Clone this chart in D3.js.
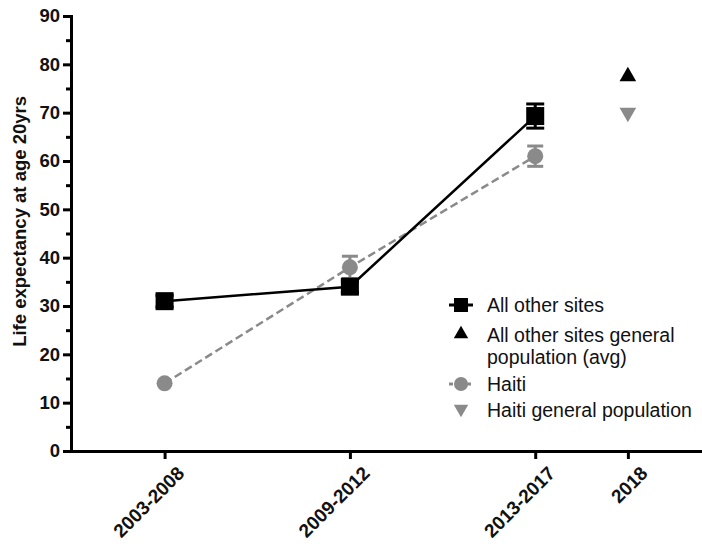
<!DOCTYPE html>
<html>
<head>
<meta charset="utf-8">
<script src="https://cdn.jsdelivr.net/npm/d3@7"></script>
<style>
body { margin: 0; background: #fff; }
svg { font-family: "Liberation Sans", Arial, sans-serif; }
</style>
</head>
<body>
<svg id="chart" width="702" height="544"></svg>
<script>
const periods = ["2003-2008", "2009-2012", "2013-2017", "2018"]
const periodPos = [0, 2, 4, 5]
const otherSites = [31, 34, 69.3]
const otherSitesErr = [1.2, 1.2, 2.5]
const haiti = [14, 38, 61]
const haitiErr = [0, 2.3, 2.1]
const otherGenPop = [77.5]
const haitiGenPop = [70]
const yTicks = [0, 10, 20, 30, 40, 50, 60, 70, 80, 90]
const grey = "#8a8a8a"
const ink = "#111"

const svg = d3.select("#chart")
const x = d3.scaleLinear().domain([-1.01, 5.8]).range([71, 702])
const y = d3.scaleLinear().domain([0, 90]).range([451, 16])

// y axis
const yAxis = svg.append("g")
	.attr("transform", "translate(" + x(-1.01) + ",0)")
	.call(d3.axisLeft(y).tickValues(yTicks).tickSize(8).tickPadding(3))
yAxis.select(".domain").attr("stroke-width", 3)
yAxis.selectAll(".tick line").attr("stroke-width", 3)
yAxis.selectAll("text").attr("font-size", 18.5).attr("font-weight", "bold").attr("fill", ink)
svg.append("g")
	.attr("transform", "translate(" + x(-1.01) + ",0)")
	.call(d3.axisLeft(y).tickValues(d3.range(5, 90, 10)).tickSize(5).tickFormat(""))
	.call(g => g.select(".domain").remove())
	.selectAll(".tick line").attr("stroke-width", 3)

svg.append("text")
	.attr("transform", "translate(20," + y(47.5) + ") rotate(-90)")
	.attr("text-anchor", "middle")
	.attr("dy", "0.35em")
	.attr("font-size", 18.5)
	.attr("font-weight", "bold")
	.attr("fill", ink)
	.text("Life expectancy at age 20yrs")

// x axis
const xAxis = svg.append("g")
	.attr("transform", "translate(0," + y(0) + ")")
	.call(d3.axisBottom(x).tickValues(periodPos).tickFormat((d, i) => periods[i]).tickSize(8).tickSizeOuter(0))
xAxis.select(".domain").attr("stroke-width", 3)
xAxis.selectAll(".tick line").attr("stroke-width", 3)
xAxis.selectAll("text")
	.attr("font-size", 19).attr("font-weight", "bold").attr("fill", ink)
	.attr("text-anchor", "end")
	.attr("dy", "0.35em")
	.attr("transform", "translate(8,11) rotate(-45)")

// lines
const line = d3.line().x(d => x(d[0])).y(d => y(d[1]))
svg.append("path")
	.datum(haiti.map((v, i) => [periodPos[i], v]))
	.attr("fill", "none").attr("stroke", grey).attr("stroke-width", 2.5)
	.attr("stroke-dasharray", "8,4")
	.attr("d", line)
svg.append("path")
	.datum(otherSites.map((v, i) => [periodPos[i], v]))
	.attr("fill", "none").attr("stroke", "#000").attr("stroke-width", 2.5)
	.attr("d", line)

function errBars(vals, errs, color, capW) {
	vals.forEach((v, i) => {
		if (!errs[i]) return
		const cx = x(periodPos[i])
		const g = svg.append("g").attr("stroke", color).attr("stroke-width", 3)
		g.append("line").attr("x1", cx).attr("x2", cx).attr("y1", y(v - errs[i])).attr("y2", y(v + errs[i]))
		;[v - errs[i], v + errs[i]].forEach(e => {
			g.append("line").attr("x1", cx - capW).attr("x2", cx + capW).attr("y1", y(e)).attr("y2", y(e))
		})
	})
}
errBars(haiti, haitiErr, grey, 8)

// markers
svg.selectAll(".haiti").data(haiti).join("circle")
	.attr("cx", (d, i) => x(periodPos[i])).attr("cy", d => y(d))
	.attr("r", 8).attr("fill", grey)
svg.selectAll(".other").data(otherSites).join("rect")
	.attr("x", (d, i) => x(periodPos[i]) - 9).attr("y", d => y(d) - 9)
	.attr("width", 18).attr("height", 18).attr("fill", "#000")
errBars(otherSites, otherSitesErr, "#000", 9)

const tri = d3.symbol().type(d3.symbolTriangle).size(120)
svg.selectAll(".ogp").data(otherGenPop).join("path")
	.attr("d", tri).attr("fill", "#000")
	.attr("transform", d => "translate(" + x(periodPos[3]) + "," + y(d) + ")")
svg.selectAll(".hgp").data(haitiGenPop).join("path")
	.attr("d", tri).attr("fill", grey)
	.attr("transform", d => "translate(" + x(periodPos[3]) + "," + y(d) + ") rotate(180)")

// legend
const legend = svg.append("g").attr("font-size", 19.5).attr("fill", ink)
const lx = 461, tx = 487
// All other sites
legend.append("line").attr("x1", lx - 12).attr("x2", lx + 12).attr("y1", 305).attr("y2", 305).attr("stroke", "#000").attr("stroke-width", 3)
legend.append("rect").attr("x", lx - 7).attr("y", 298).attr("width", 14).attr("height", 14).attr("fill", "#000")
legend.append("text").attr("x", tx).attr("y", 305).attr("dy", "0.35em").text("All other sites")
// general pop
legend.append("path").attr("d", d3.symbol().type(d3.symbolTriangle).size(90)).attr("fill", "#000")
	.attr("transform", "translate(" + lx + ",334)")
legend.append("text").attr("x", tx).attr("y", 335).attr("dy", "0.35em").text("All other sites general")
legend.append("text").attr("x", tx).attr("y", 357).attr("dy", "0.35em").text("population (avg)")
// Haiti
legend.append("line").attr("x1", lx - 12).attr("x2", lx + 12).attr("y1", 384).attr("y2", 384).attr("stroke", grey).attr("stroke-width", 3).attr("stroke-dasharray", "4,2")
legend.append("circle").attr("cx", lx).attr("cy", 384).attr("r", 7).attr("fill", grey)
legend.append("text").attr("x", tx).attr("y", 384).attr("dy", "0.35em").text("Haiti")
// Haiti gen pop
legend.append("path").attr("d", d3.symbol().type(d3.symbolTriangle).size(90)).attr("fill", grey)
	.attr("transform", "translate(" + lx + ",409) rotate(180)")
legend.append("text").attr("x", tx).attr("y", 410).attr("dy", "0.35em").text("Haiti general population")
</script>
</body>
</html>
